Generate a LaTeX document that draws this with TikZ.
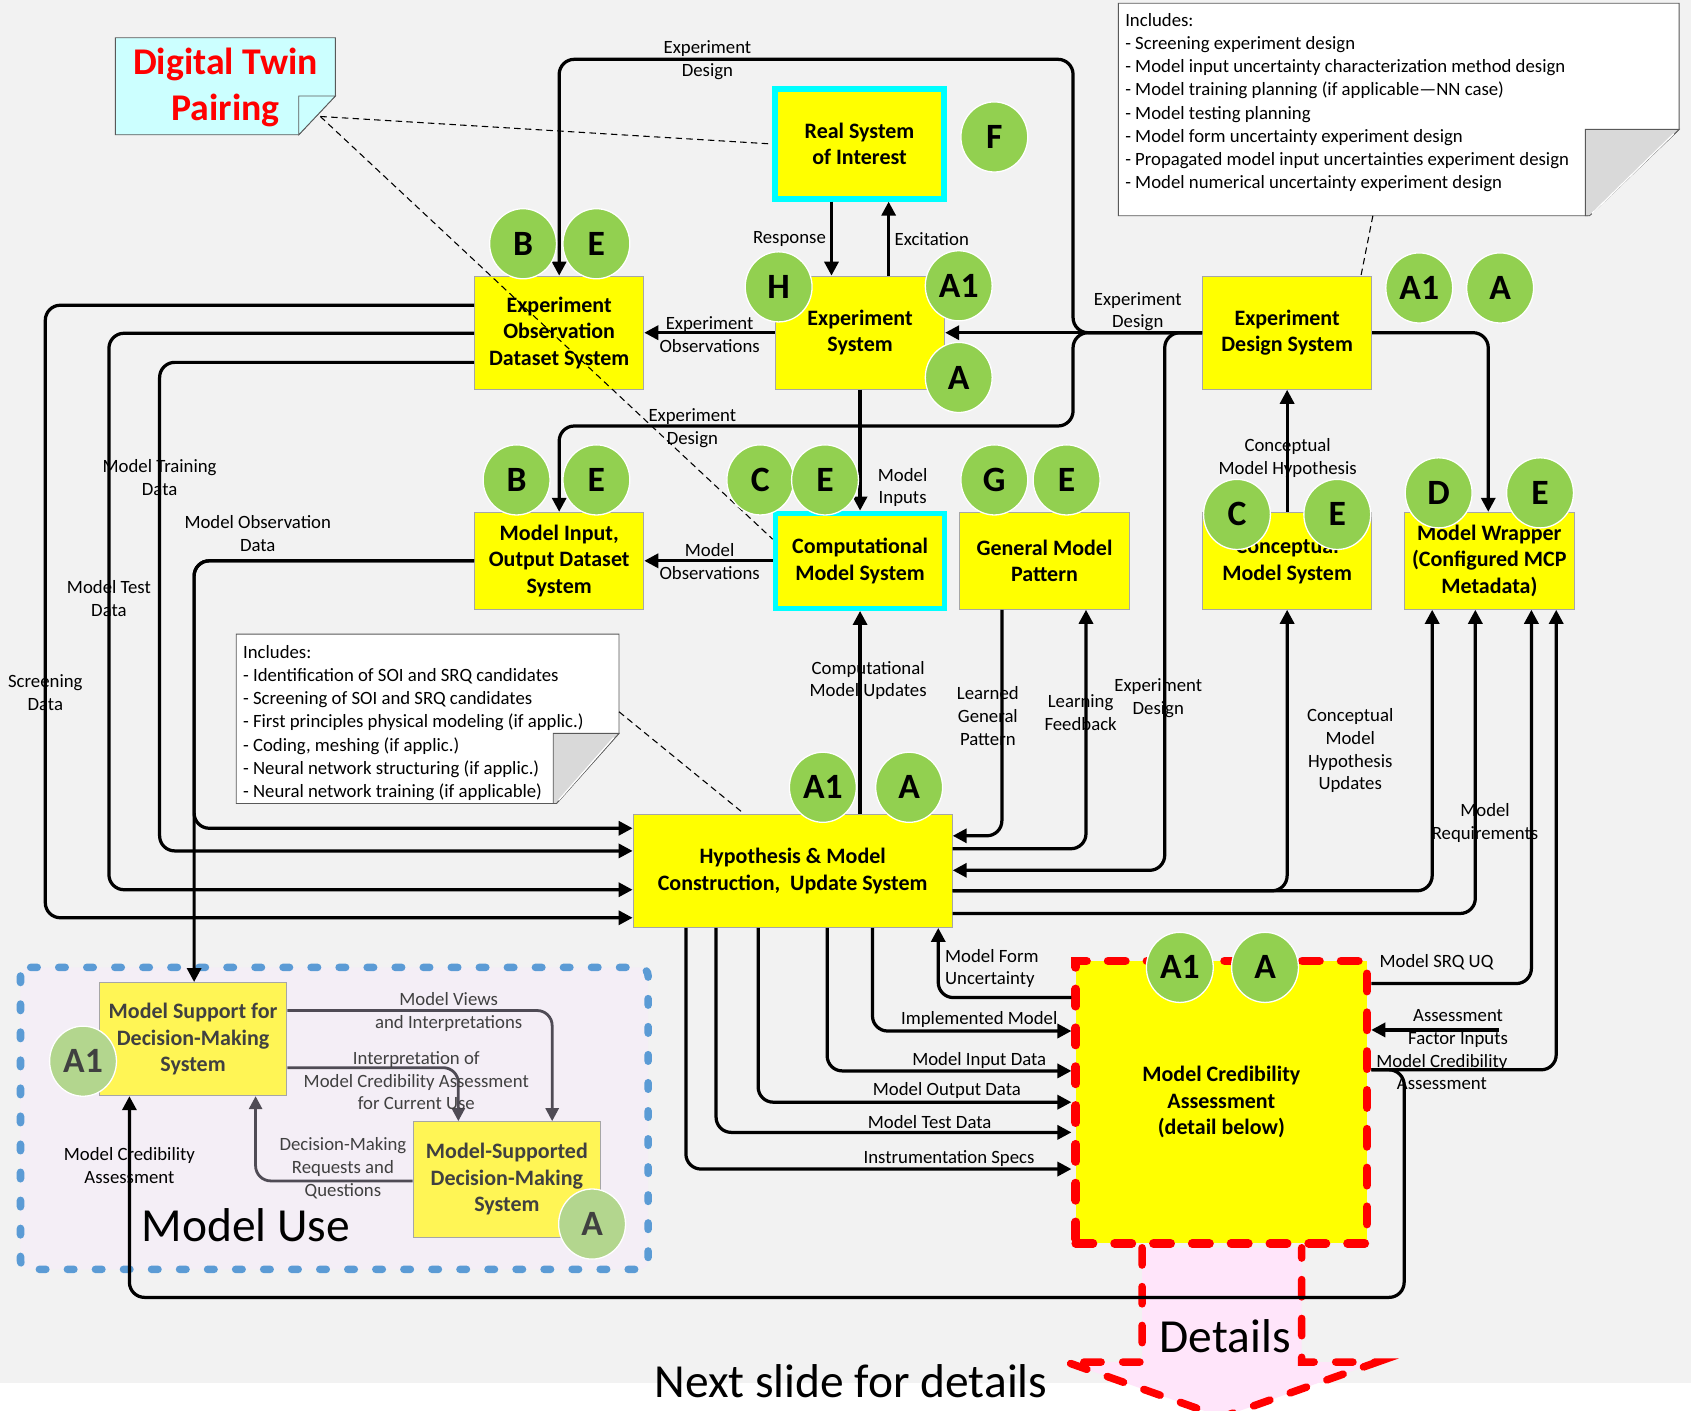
\documentclass[tikz,border=0pt]{standalone}
\usepackage{fontspec}
\setmainfont{Carlito}
\usepackage{tikz}
\usetikzlibrary{positioning,arrows.meta,shapes.geometric,calc}
\definecolor{SlideBg}{HTML}{F2F2F2}
\definecolor{BoxYellow}{HTML}{FFFF00}
\definecolor{PaleYellow}{HTML}{FFF555}
\definecolor{LeafGreen}{HTML}{92D050}
\definecolor{PaleGreen}{HTML}{B3D68E}
\definecolor{TwinCyan}{HTML}{00FFFF}
\definecolor{NoteCyan}{HTML}{CCFFFF}
\definecolor{UseBlue}{HTML}{5B9BD5}
\definecolor{UseBg}{HTML}{F4EEF6}
\definecolor{DetailPink}{HTML}{FFE5FA}
\definecolor{FoldGray}{HTML}{D9D9D9}
\definecolor{DimText}{HTML}{404040}
\definecolor{DimLine}{HTML}{4F4B55}

\tikzset{
  sysbox/.style={rectangle, draw=gray!70, fill=BoxYellow, align=center, inner sep=1pt,
                 font=\fontsize{10.2}{12.3}\selectfont\bfseries},
  twinbox/.style={sysbox, draw=TwinCyan, line width=2.5pt},
  usebox/.style={sysbox, fill=PaleYellow, text=DimText},
  tag/.style={ellipse, fill=LeafGreen, draw=white, line width=0.6pt, inner sep=0pt,
              minimum width=31pt, minimum height=32.5pt,
              font=\fontsize{16.5}{16.5}\selectfont\bfseries},
  paletag/.style={tag, fill=PaleGreen, text=DimText},
  lbl/.style={align=center, inner sep=0pt, font=\fontsize{8.7}{10.6}\selectfont},
  dimlbl/.style={lbl, text=DimText},
  notetext/.style={align=left, inner sep=0pt, anchor=north west,
                   font=\fontsize{8.7}{10.75}\selectfont},
  flow/.style={line width=1.5pt, rounded corners=7pt, -{Triangle[length=6.5pt,width=6.5pt]}},
  useflow/.style={flow, draw=DimLine, line width=1.3pt, -{Triangle[length=6pt,width=6pt,fill=DimLine]}},
  link/.style={draw=black, line width=0.5pt, dash pattern=on 3pt off 2pt},
  reddash/.style={draw=red, line width=4pt, dash pattern=on 8pt off 10pt, line cap=round}
}

\begin{document}
\begin{tikzpicture}[x=0.5pt,y=-0.5pt]
  \useasboundingbox (0,0) rectangle (1568,1308);
  \fill[white] (0,0) rectangle (1568,1308);
  \fill[SlideBg] (0,0) rectangle (1568,1282);

  % model use frame
  \draw[UseBlue, fill=UseBg, line width=3.5pt, dash pattern=on 3pt off 10pt, line cap=round,
        rounded corners=4pt] (19,897) rectangle (601,1177);

  % details arrow
  \draw[reddash, fill=DetailPink, line width=3.5pt]
    (1059,1157) -- (1059,1263) -- (989,1263) -- (1133,1314) -- (1277,1263) -- (1207,1263) -- (1207,1157);

  % notes
  \draw[gray!70!black, fill=NoteCyan] (107,35) -- (311,35) -- (311,89) -- (277,125) -- (107,125) -- cycle;
  \draw[gray!70!black, fill=NoteCyan] (277,125) -- (277,89) -- (311,89) -- cycle;
  \node[text=red, align=center, font=\fontsize{17.5}{21}\selectfont\bfseries] (dttext) at (209,81) {Digital Twin\\Pairing};
  \coordinate (dtfold) at (297,108);

  \draw[gray!70!black, fill=white] (1037,3) -- (1557,3) -- (1557,120) -- (1472,200) -- (1037,200) -- cycle;
  \draw[gray!70!black, fill=FoldGray] (1470,120) -- (1557,120) -- (1474,200) -- (1470,200) -- cycle;
  \draw[white, line width=0.6pt] (1552,124) -- (1476,198);
  \node[notetext] (designnote) at (1043,12) {Includes:\\
    - Screening experiment design\\
    - Model input uncertainty characterization method design\\
    - Model training planning (if applicable---NN case)\\
    - Model testing planning\\
    - Model form uncertainty experiment design\\
    - Propagated model input uncertainties experiment design\\
    - Model numerical uncertainty experiment design};
  \coordinate (designtail) at (1273,200);

  \draw[gray!70!black, fill=white] (219,588) -- (574,588) -- (574,680) -- (516,745) -- (219,745) -- cycle;
  \draw[gray!70!black, fill=FoldGray] (513,680) -- (574,680) -- (516,745) -- (513,745) -- cycle;
  \draw[white, line width=0.6pt] (569,684) -- (518,742);
  \node[notetext] (buildnote) at (225,598) {Includes:\\
    - Identification of SOI and SRQ candidates\\
    - Screening of SOI and SRQ candidates\\
    - First principles physical modeling (if applic.)\\
    - Coding, meshing (if applic.)\\
    - Neural network structuring (if applic.)\\
    - Neural network training (if applicable)};
  \coordinate (buildtail) at (574,660);

  % systems
  \node[twinbox, minimum width=78.5pt, minimum height=51pt] (RealSys) at (797,133.5) {Real System\\of Interest};
  \node[sysbox, minimum width=78.5pt, minimum height=52.5pt] (ExpObs) at (518.5,308.5) {Experiment\\Observation\\Dataset System};
  \node[sysbox, minimum width=78.5pt, minimum height=52.5pt] (ExpSys) at (797.5,308.5) {Experiment\\System};
  \node[sysbox, minimum width=78.5pt, minimum height=52.5pt] (ExpDesign) at (1193.5,308.5) {Experiment\\Design System};
  \node[sysbox, minimum width=78.5pt, minimum height=45pt] (MIO) at (518.5,520) {Model Input,\\Output Dataset\\System};
  \node[twinbox, minimum width=78.5pt, minimum height=44pt] (CompModel) at (797.5,520) {Computational\\Model System};
  \node[sysbox, minimum width=78.5pt, minimum height=45pt] (GenPattern) at (968.5,520) {General Model\\Pattern};
  \node[sysbox, minimum width=78.5pt, minimum height=45pt] (Conceptual) at (1193.5,520) {Conceptual\\Model System};
  \node[sysbox, minimum width=79pt, minimum height=45pt] (Wrapper) at (1381,520) {Model Wrapper\\(Configured MCP\\Metadata)};
  \node[sysbox, minimum width=148pt, minimum height=52.5pt] (Hypothesis) at (735,807.5) {Hypothesis \& Model\\Construction,~ Update System};
  \node[sysbox, reddash, fill=BoxYellow, minimum width=135pt, minimum height=131pt] (Cred) at (1132.5,1022) {Model Credibility\\Assessment\\(detail below)};
  \node[usebox, minimum width=87pt, minimum height=52.5pt] (ModelSupport) at (179,963.5) {Model Support for\\Decision-Making\\System};
  \node[usebox, minimum width=87pt, minimum height=53.5pt] (ModelSupported) at (470,1093.5) {Model-Supported\\Decision-Making\\System};
  \coordinate (afin) at (1390,955);

  % experiment side
  \draw[flow] (ExpDesign.west) -- (ExpSys.east);
  \draw[flow] (ExpDesign.west) -| (995,55) -| (ExpObs.north);
  \draw[flow] (ExpDesign.west) -| (995,395) -| (MIO.north);
  \draw[flow] (ExpDesign.west) -| (1080,807) -- (Hypothesis.east |- 0,807);
  \draw[flow] (ExpDesign.east) -| (Wrapper.north -| 1380,0);
  \draw[flow] (Conceptual.north) -- (ExpDesign.south);
  \draw[flow] (RealSys.south -| 771,0) -- (ExpSys.north -| 771,0);
  \draw[flow] (ExpSys.north -| 824,0) -- (RealSys.south -| 824,0);
  \draw[flow] (ExpSys.west) -- (ExpObs.east);
  \draw[flow] (ExpSys.south) -- (CompModel.north);
  \draw[flow] (CompModel.west) -- (MIO.east);

  % construction loop
  \draw[flow] (Hypothesis.north -| 797.5,0) -- (CompModel.south);
  \draw[flow] (GenPattern.south -| 929,0) |- (Hypothesis.east |- 0,775);
  \draw[flow] (Hypothesis.east |- 0,787) -| (GenPattern.south -| 1007,0);
  \draw[flow] (Hypothesis.east |- 0,826) -| (Conceptual.south);
  \draw[flow] (Hypothesis.east |- 0,826) -| (Wrapper.south -| 1328,0);
  \draw[flow] (Hypothesis.east |- 0,847) -| (Wrapper.south -| 1368,0);

  % data feeds
  \draw[flow] (ExpObs.west |- 0,283) -| (42,851) -- (Hypothesis.west |- 0,851);
  \draw[flow] (ExpObs.west |- 0,309) -| (101,825) -- (Hypothesis.west |- 0,825);
  \draw[flow] (ExpObs.west |- 0,336) -| (148,789) -- (Hypothesis.west |- 0,789);
  \draw[flow] (MIO.west) -| (180,768) -- (Hypothesis.west |- 0,768);
  \draw[flow] (MIO.west) -| (ModelSupport.north -| 180,0);

  % credibility assessment
  \draw[flow] (Hypothesis.south -| 809,0) |- (Cred.west |- 0,956);
  \draw[flow] (Hypothesis.south -| 767,0) |- (Cred.west |- 0,993);
  \draw[flow] (Hypothesis.south -| 703,0) |- (Cred.west |- 0,1022);
  \draw[flow] (Hypothesis.south -| 664,0) |- (Cred.west |- 0,1050);
  \draw[flow] (Hypothesis.south -| 636,0) |- (Cred.west |- 0,1084);
  \draw[flow] (Cred.west |- 0,925) -| (Hypothesis.south -| 870,0);
  \draw[flow] (Cred.east |- 0,912) -| (Wrapper.south -| 1420,0);
  \draw[flow] (Cred.east |- 0,992) -| (Wrapper.south -| 1443,0);
  \draw[flow] (Cred.east |- 0,992) -| (1302,1203) -| (ModelSupport.south -| 120,0);
  \draw[flow] (afin) -- (Cred.east |- afin);

  % model use
  \draw[useflow] (ModelSupport.east |- 0,937) -| (ModelSupported.north -| 512,0);
  \draw[useflow] (ModelSupport.east |- 0,990) -| (ModelSupported.north -| 425,0);
  \draw[useflow] (ModelSupported.west |- 0,1095) -| (ModelSupport.south -| 237,0);

  % pairing and note links
  \draw[link] (dtfold) -- (RealSys.west);
  \draw[link] (dtfold) -- ([yshift=10pt]CompModel.west);
  \draw[link] (designtail) -- (ExpDesign.north -| 1262,0);
  \draw[link] (buildtail) -- (Hypothesis.north -| 690,0);

  % tags
  \node[tag] (tagF) at (922,127) {F};
  \node[tag] (tagB1) at (485,226) {B};
  \node[tag] (tagE1) at (553,226) {E};
  \node[tag] (tagH) at (722,266) {H};
  \node[tag] (tagA1a) at (889,265) {A1};
  \node[tag] (tagAa) at (889,350) {A};
  \node[tag] (tagA1b) at (1316,267) {A1};
  \node[tag] (tagAb) at (1391,267) {A};
  \node[tag] (tagB2) at (479,445) {B};
  \node[tag] (tagE2) at (553,445) {E};
  \node[tag] (tagC1) at (705,445) {C};
  \node[tag] (tagE3) at (765,445) {E};
  \node[tag] (tagG) at (922,445) {G};
  \node[tag] (tagE4) at (989,445) {E};
  \node[tag] (tagC2) at (1147,477) {C};
  \node[tag] (tagE5) at (1240,477) {E};
  \node[tag] (tagD) at (1334,457) {D};
  \node[tag] (tagE6) at (1428,457) {E};
  \node[tag] (tagA1c) at (763,730) {A1};
  \node[tag] (tagAc) at (843,730) {A};
  \node[tag] (tagA1d) at (1094,897) {A1};
  \node[tag] (tagAd) at (1173,897) {A};
  \node[paletag] (tagA1e) at (77,984) {A1};
  \node[paletag] (tagAe) at (549,1135) {A};

  % labels
  \node[lbl] (lTopDesign) at (656,56) {Experiment\\Design};
  \node[lbl] (lResponse) at (732,222) {Response};
  \node[lbl] (lExcitation) at (864,222) {Excitation};
  \node[lbl] (lExpObs) at (658,310) {Experiment\\Observations};
  \node[lbl] (lSysDesign) at (1055,289) {Experiment\\Design};
  \node[lbl] (lMidDesign) at (642,397) {Experiment\\Design};
  \node[lbl] (lInputs) at (837,452) {Model\\Inputs};
  \node[lbl] (lModObs) at (658,521) {Model\\Observations};
  \node[lbl] (lHypo) at (1194,425) {Conceptual\\Model Hypothesis};
  \node[lbl] (lTrain) at (148,443) {Model Training\\Data};
  \node[lbl] (lObsData) at (239,495) {Model Observation\\Data};
  \node[lbl] (lTest) at (101,555) {Model Test\\Data};
  \node[lbl] (lScreen) at (42,642) {Screening\\Data};
  \node[lbl] (lCompUpd) at (805,631) {Computational\\Model Updates};
  \node[lbl] (lLearned) at (916,664) {Learned\\General\\Pattern};
  \node[lbl] (lFeedback) at (1002,661) {Learning\\Feedback};
  \node[lbl] (lLowDesign) at (1074,647) {Experiment\\Design};
  \node[lbl] (lHypoUpd) at (1252,696) {Conceptual\\Model\\Hypothesis\\Updates};
  \node[lbl] (lReq) at (1377,763) {Model\\Requirements};
  \node[lbl, anchor=west, align=left] (lForm) at (876,898) {Model Form\\Uncertainty};
  \node[lbl] (lSrq) at (1332,892) {Model SRQ UQ};
  \node[lbl] (lImpl) at (908,945) {Implemented Model};
  \node[lbl] (lFactor) at (1352,954) {Assessment\\Factor Inputs};
  \node[lbl] (lInData) at (908,983) {Model Input Data};
  \node[lbl] (lCredR) at (1337,994) {Model Credibility\\Assessment};
  \node[lbl] (lOutData) at (878,1011) {Model Output Data};
  \node[lbl] (lTestData) at (862,1040) {Model Test Data};
  \node[lbl] (lInstr) at (880,1074) {Instrumentation Specs};
  \node[dimlbl] (lViews) at (416,938) {Model Views\\and Interpretations};
  \node[dimlbl] (lInterp) at (386,1002) {Interpretation of\\Model Credibility Assessment\\for Current Use};
  \node[dimlbl] (lRequests) at (318,1083) {Decision-Making\\Requests and\\Questions};
  \node[lbl] (lCredL) at (120,1081) {Model Credibility\\Assessment};
  \node[font=\fontsize{22}{22}\selectfont, inner sep=0pt] (useTitle) at (228,1136) {Model Use};
  \node[font=\fontsize{22}{22}\selectfont, inner sep=0pt] (detailTitle) at (1136,1239) {Details};
  \node[font=\fontsize{22}{22}\selectfont, inner sep=0pt] (nextTitle) at (789,1281) {Next slide for details};
\end{tikzpicture}
\end{document}
